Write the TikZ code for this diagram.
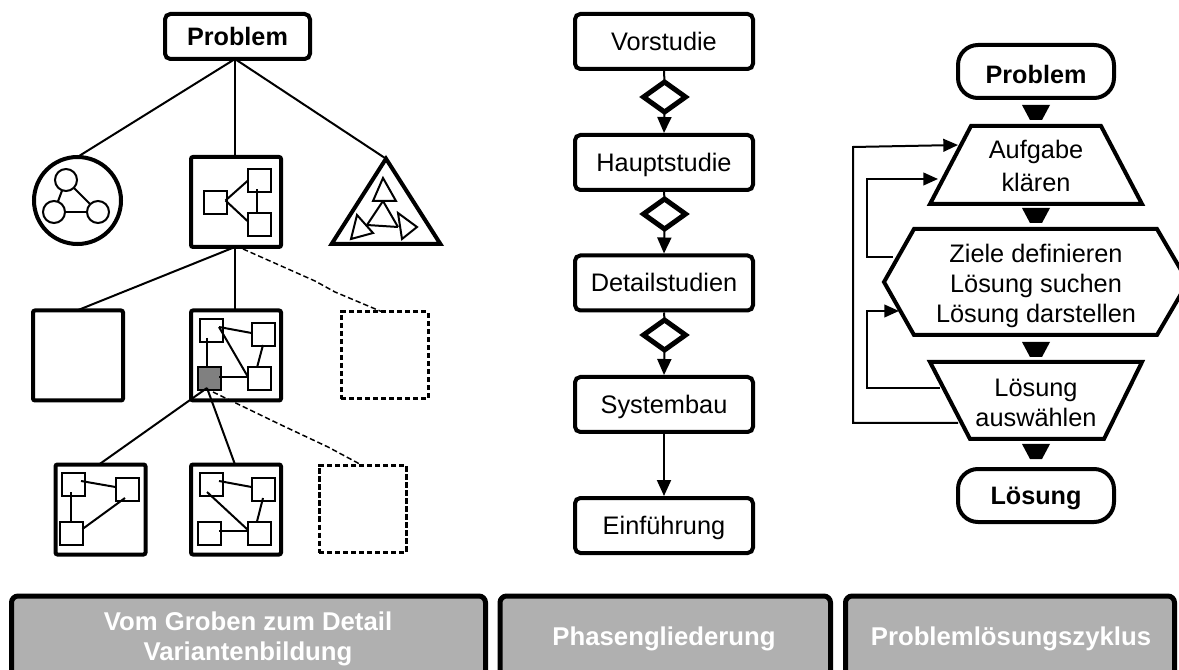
\documentclass[tikz,border=0pt]{standalone}
\usepackage{fontspec}
\setmainfont{Liberation Sans}
\usetikzlibrary{arrows.meta,shapes.geometric}
\definecolor{bargray}{HTML}{B0B0B0}
\definecolor{darkcell}{HTML}{808080}
\newcommand{\flowmark}[1]{\fill (1022,#1) -- (1050,#1) -- (1042,#1+15) -- (1030,#1+15) -- cycle;}
\tikzset{
  txt/.style={font=\fontsize{19}{22.5}\selectfont, align=center, inner sep=0pt},
  boldtxt/.style={txt, font=\fontsize{18.9}{22.5}\selectfont\bfseries},
  wtxt/.style={txt, font=\fontsize{19.3}{22.8}\selectfont\bfseries, text=white},
  conn/.style={line width=1.5pt},
  dashconn/.style={line width=1.1pt, dash pattern=on 4pt off 2.2pt},
  arrowconn/.style={conn, -{Triangle[length=12pt,width=10.5pt]}},
  smallarrow/.style={conn, -{Triangle[length=11pt,width=9.5pt]}},
  bigsq/.style={draw, line width=3pt, minimum size=67.5pt, inner sep=0pt, outer sep=0pt, rounded corners=1.5pt},
  dashsq/.style={draw, line width=2.25pt, minimum size=65.25pt, inner sep=0pt, outer sep=0pt, dash pattern=on 4pt off 2pt},
  smallsq/.style={draw, line width=1.5pt, minimum size=17.25pt, inner sep=0pt, outer sep=0pt},
  smallcirc/.style={draw, circle, line width=1.5pt, minimum size=16.5pt, inner sep=0pt, outer sep=0pt},
  flowbox/.style={txt, draw, line width=3pt, minimum width=133.5pt, minimum height=41.25pt, rounded corners=4pt, outer sep=1.5pt, text height=13.5pt, text depth=0pt},
  gate/.style={draw, diamond, line width=3.75pt, minimum width=31.5pt, minimum height=22.5pt, inner sep=0pt, outer sep=0pt},
  stadium/.style={boldtxt, draw, line width=3pt, minimum width=117pt, minimum height=39.75pt, rounded corners=15pt},
  barbox/.style={draw, line width=3.75pt, fill=bargray, rounded corners=5pt},
}
\begin{document}
\begin{tikzpicture}[x=0.75pt,y=-0.75pt]
\useasboundingbox (0,0) rectangle (1179,670);
\clip (0,0) rectangle (1179,670);

% ---------- left column
\node[boldtxt, draw, line width=3pt, minimum width=108.75pt, minimum height=33.75pt, rounded corners=4pt, outer sep=0pt] (prob) at (237.5,36.5) {Problem};
\node[draw, circle, line width=3pt, minimum size=65.25pt, inner sep=0pt, outer sep=0pt] (circ) at (77.5,200.5) {};
\node[bigsq] (top) at (236,202) {};
\draw[line width=3pt] (386,158.7) coordinate (triapex) -- (440.4,244) -- (331.6,244) -- cycle;
\draw[conn] ([shift={(-2.5,0)}]prob.south) -- (circ.north);
\draw[conn] ([shift={(-2.5,0)}]prob.south) -- ([shift={(-1,0)}]top.north);
\draw[conn] ([shift={(-2.5,0)}]prob.south) -- (triapex);

\node[smallcirc] (c1) at (66,180) {};
\node[smallcirc] (c2) at (54,212) {};
\node[smallcirc] (c3) at (98,212) {};
\draw[conn] (c1) -- (c2);
\draw[conn] (c1) -- (c3);
\draw[conn] (c2) -- (c3);

\node[smallsq] (tl) at (215.5,202.5) {};
\node[smallsq] (tr) at (259.5,180.5) {};
\node[smallsq] (tb) at (259.5,224.5) {};
\draw[conn] ([shift={(10,-2)}]tl.center) -- (tr.west);
\draw[conn] ([shift={(10,-2)}]tl.center) -- ([shift={(0,-3)}]tb.west);
\draw[conn] ([shift={(-2.5,9)}]tr.center) -- ([shift={(-2.5,0)}]tb.north);

% triangle contents
\coordinate (tA) at (383,201);
\coordinate (tB) at (367,225);
\coordinate (tC) at (398,227);
\draw[conn, line join=miter] (383,178) -- (396,201) -- (373,201) -- cycle;
\draw[conn, line join=miter] (357,215) -- (373,233) -- (351,239) -- cycle;
\draw[conn, line join=miter] (398,213) -- (417,227) -- (402,239) -- cycle;
\draw[conn] (tA) -- (tB);
\draw[conn] (tA) -- (tC);
\draw[conn] (tB) -- (tC);

% second row
\node[bigsq] (ra) at (78,355.5) {};
\node[bigsq] (rb) at (236,355.5) {};
\node[dashsq] (rc) at (384.5,355.5) {};
\draw[conn] ([shift={(-1,0)}]top.south) -- ([shift={(-1,0)}]ra.north);
\draw[conn] ([shift={(-1,0)}]top.south) -- ([shift={(-1,0)}]rb.north);
\draw[dashconn] ([shift={(7,2)}]top.south) -- (315,281) -- (335,292) -- ([shift={(-2,0)}]rc.north);

\node[smallsq] (btl) at (211,330.5) {};
\node[smallsq] (btr) at (263,334.5) {};
\node[smallsq, fill=darkcell] (bbl) at (209.5,379) {};
\node[smallsq] (bbr) at (259.5,379) {};
\draw[conn] ([shift={(8,-3.5)}]btl.center) -- ([shift={(0,-1.5)}]btr.west);
\draw[conn] ([shift={(8,-3.5)}]btl.center) -- ([shift={(0,-2)}]bbr.west);
\draw[conn] ([shift={(0,10.5)}]btr.center) -- ([shift={(-2.5,0)}]bbr.north);
\draw[conn] ([shift={(-4,7.5)}]btl.center) -- ([shift={(-2.5,0)}]bbl.north);
\draw[conn] ([shift={(9.5,-2)}]bbl.center) -- ([shift={(0,-2)}]bbr.west);

% third row
\node[bigsq] (rd) at (100.5,509.5) {};
\node[bigsq] (re) at (236,509.5) {};
\node[dashsq] (rf) at (362.5,509) {};
\draw[conn] ([shift={(-2.5,9)}]bbl.center) -- ([shift={(-1.5,0)}]rd.north);
\draw[conn] ([shift={(-2.5,9)}]bbl.center) -- ([shift={(-1,0)}]re.north);
\draw[dashconn] ([shift={(3.5,13)}]bbl.center) -- (277,423) -- (328,447) -- (rf.north);

\node[smallsq] (dtl) at (73,484.5) {};
\node[smallsq] (dtr) at (127,489) {};
\node[smallsq] (dbl) at (71,533) {};
\draw[conn] ([shift={(8,-3.5)}]dtl.center) -- ([shift={(0,-2)}]dtr.west);
\draw[conn] ([shift={(-2,7.5)}]dtl.center) -- (dbl.north);
\draw[conn] ([shift={(0,-4)}]dbl.east) -- ([shift={(-2,9)}]dtr.center);

\node[smallsq] (etl) at (211,484.5) {};
\node[smallsq] (etr) at (263,489) {};
\node[smallsq] (ebl) at (209.5,533) {};
\node[smallsq] (ebr) at (259.5,533) {};
\draw[conn] ([shift={(8,-3.5)}]etl.center) -- ([shift={(0,-2)}]etr.west);
\draw[conn] ([shift={(-4,7.5)}]etl.center) -- ([shift={(0,-3)}]ebr.west);
\draw[conn] ([shift={(0,9)}]etr.center) -- ([shift={(-2.5,0)}]ebr.north);
\draw[conn] ([shift={(9.5,-2)}]ebl.center) -- ([shift={(0,-2)}]ebr.west);

% ---------- middle column
\node[flowbox] (v1) at (664,41.5) {Vorstudie};
\node[flowbox] (v2) at (664,162.5) {Hauptstudie};
\node[flowbox] (v3) at (664,283) {Detailstudien};
\node[flowbox] (v4) at (664,404.5) {Systembau};
\node[flowbox] (v5) at (664,525.5) {Einführung};
\node[gate] (d1) at (664.5,97) {};
\node[gate] (d2) at (664.5,214) {};
\node[gate] (d3) at (664.5,335) {};
\draw[conn] (v1.south) -- (d1.north);
\draw[arrowconn] (d1.south) -- (v2.north);
\draw[conn] (v2.south) -- (d2.north);
\draw[arrowconn] (d2.south) -- (v3.north);
\draw[conn] (v3.south) -- (d3.north);
\draw[arrowconn] (d3.south) -- (v4.north);
\draw[arrowconn] (v4.south) -- (v5.north);

% ---------- right column
\node[stadium, text height=17.3pt, text depth=0pt] (s1) at (1036,71.5) {Problem};
\node[stadium, text height=13.5pt, text depth=0pt] (s2) at (1036,495.5) {Lösung};
\draw[line width=3pt] (971,126) -- (1101,126) -- (1142,204) -- (930,204) -- cycle;
\node[txt] (t1) at (1036,166) {Aufgabe\\[2pt]klären};
\draw[line width=3pt] (914,229) -- (1157,229) -- (1188,282) -- (1157,335) -- (914,335) -- (884,282) -- cycle;
\node[txt] (t2) at (1036,286) {Ziele definieren\\Lösung suchen\\Lösung darstellen};
\draw[line width=3pt] (930,362) -- (1142,362) -- (1104,439) -- (970,439) -- cycle;
\node[txt] (t3) at (1036,402.5) {Lösung\\auswählen};
\flowmark{105}
\flowmark{208}
\flowmark{342}
\flowmark{444}

\coordinate (f1a) at (893,257);
\coordinate (f1b) at (867,257);
\coordinate (f1c) at (867,179);
\coordinate (f1d) at (938,179);
\draw[smallarrow] (f1a) -- (f1b) -- (f1c) -- (f1d);
\coordinate (f2a) at (940,388);
\coordinate (f2b) at (867,388);
\coordinate (f2c) at (867,311);
\coordinate (f2d) at (899,311);
\draw[smallarrow] (f2a) -- (f2b) -- (f2c) -- (f2d);
\coordinate (f3a) at (958,423);
\coordinate (f3b) at (853,423);
\coordinate (f3c) at (853,147);
\coordinate (f3d) at (958,145);
\draw[smallarrow] (f3a) -- (f3b) -- (f3c) -- (f3d);

% ---------- bottom bars
\path[barbox] (11.5,596) rectangle (485.5,700);
\path[barbox] (500,596) rectangle (830.5,700);
\path[barbox] (845.5,596) rectangle (1174.5,700);
\node[wtxt] (b1) at (248,639) {Vom Groben zum Detail\\Variantenbildung};
\node[wtxt] (b2) at (664,639) {Phasengliederung};
\node[wtxt] (b3) at (1011,639) {Problemlösungszyklus};
\end{tikzpicture}
\end{document}
